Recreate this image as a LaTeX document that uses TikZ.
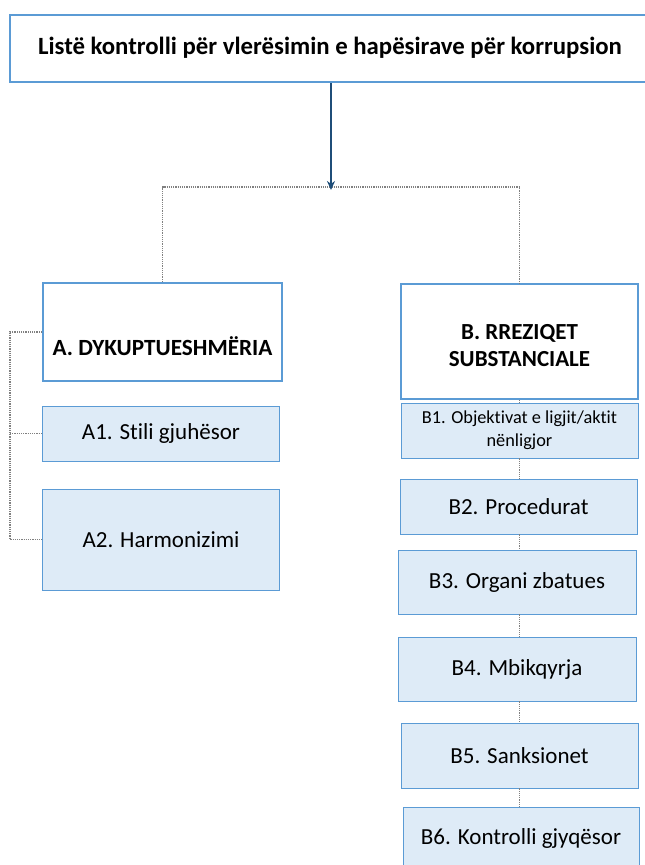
\documentclass[tikz,border=0pt]{standalone}
\usepackage{fontspec}
\setmainfont{Carlito}[Ligatures={NoCommon}]
\usetikzlibrary{arrows.meta}
\definecolor{bord}{HTML}{5B9BD5}
\definecolor{fillb}{HTML}{DEEBF7}
\definecolor{arr}{HTML}{1F4E79}
\definecolor{dotc}{HTML}{808080}
\begin{document}
\begin{tikzpicture}[x=1pt,y=-1pt,
  mainbox/.style={draw=bord,line width=2pt,fill=white,inner sep=0pt,anchor=center},
  subbox/.style={draw=bord,line width=0.9pt,fill=fillb,inner sep=0pt,anchor=center,
     align=center,font=\fontsize{23}{26}\selectfont},
  conn/.style={draw=dotc,line width=1.2pt,densely dotted},
  lbl/.style={inner sep=0pt,align=center}]
\useasboundingbox[fill=white] (0,0) rectangle (645,865);
% title
\node[mainbox,minimum width=638pt,minimum height=67pt] (title) at (329,48.5) {};
\node[lbl,font=\bfseries\fontsize{24.8}{28}\selectfont] (titletext) at (330,48) {Listë kontrolli për vlerësimin e hapësirave për korrupsion};
% main boxes
\node[mainbox,minimum width=239pt,minimum height=98pt] (A) at (162.5,332) {};
\node[lbl,font=\bfseries\fontsize{23.2}{26}\selectfont] (Atext) at (162.5,346) {A. DYKUPTUESHMËRIA};
\node[mainbox,minimum width=237pt,minimum height=115pt] (B) at (519.5,341.5) {};
\node[lbl,font=\bfseries\fontsize{23}{27}\selectfont] (Btext) at (519.5,345.5) {B. RREZIQET\\SUBSTANCIALE};
% A sub boxes
\node[subbox,minimum width=237pt,minimum height=55pt] (A1) at (161,433.5) {A1. Stili gjuhësor};
\node[subbox,minimum width=237pt,minimum height=101pt] (A2) at (161,539.5) {A2. Harmonizimi};
% B sub boxes
\node[subbox,minimum width=237pt,minimum height=55pt,font=\fontsize{18.3}{23}\selectfont] (B1) at (519.5,430.5) {B1. Objektivat e ligjit/aktit\\nënligjor};
\node[subbox,minimum width=237pt,minimum height=55pt] (B2) at (518.5,506.5) {B2. Procedurat};
\node[subbox,minimum width=238pt,minimum height=64pt] (B3) at (517,582) {B3. Organi zbatues};
\node[subbox,minimum width=238pt,minimum height=64pt] (B4) at (517,669) {B4. Mbikqyrja};
\node[subbox,minimum width=237pt,minimum height=65pt] (B5) at (519.5,755.5) {B5. Sanksionet};
\node[subbox,minimum width=236pt,minimum height=66pt,text depth=0pt] (B6) at (521,840) {};
\node[lbl,font=\fontsize{23}{26}\selectfont] (B6text) at (521,838) {B6. Kontrolli gjyqësor};
% connectors
\coordinate (hub) at (331,187);
\coordinate (lx) at (10,332);
\draw[conn] (A.north) |- (hub) -| (B.north);
\draw[arr,line width=2pt,-{Stealth[length=9pt,width=8pt]}] (title.south -| hub) -- ([yshift=-3pt]hub);
\draw[conn] (A.west) -- (lx) |- (A2.west);
\draw[conn] (lx |- A1.west) -- (A1.west);
\draw[conn] (B.south) -- (B.south |- B1.north);
\draw[conn] (B1.south -| B.south) -- (B2.north -| B.south);
\draw[conn] (B2.south -| B.south) -- (B3.north -| B.south);
\draw[conn] (B3.south -| B.south) -- (B4.north -| B.south);
\draw[conn] (B4.south -| B.south) -- (B5.north -| B.south);
\draw[conn] (B5.south -| B.south) -- (B6.north -| B.south);
\end{tikzpicture}
\end{document}
